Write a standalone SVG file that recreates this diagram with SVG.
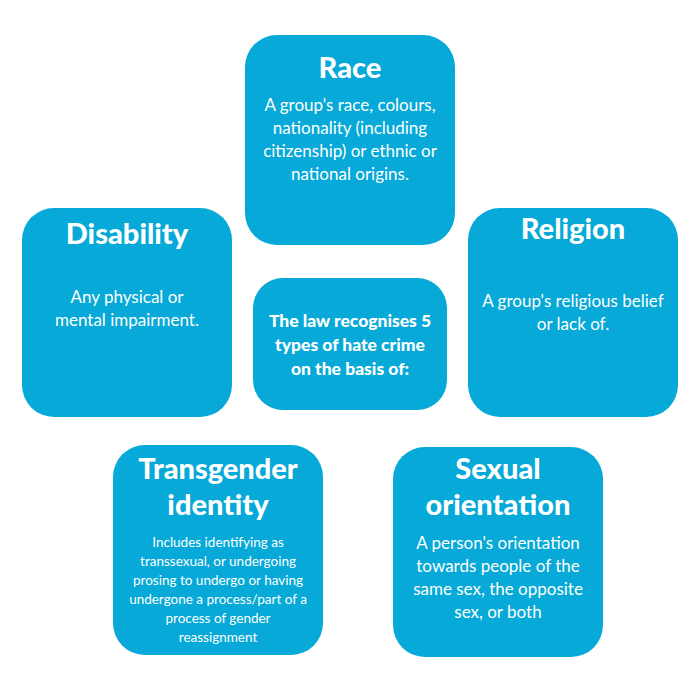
<svg xmlns="http://www.w3.org/2000/svg" width="700" height="700" viewBox="0 0 700 700">
<style>
.b{fill:#06a9d7}
.t{font-family:Lato,"Open Sans",sans-serif;font-weight:900;fill:#fff;text-anchor:middle;font-size:29px}
.d{font-family:Lato,"Open Sans",sans-serif;fill:#fff;text-anchor:middle;font-size:17px}
.s{font-family:Lato,"Open Sans",sans-serif;fill:#fff;text-anchor:middle;font-size:13.5px}
.c{font-family:Lato,"Open Sans",sans-serif;font-weight:900;fill:#fff;text-anchor:middle;font-size:17.5px}
</style>
<rect width="700" height="700" fill="#fff"/>
<g id="race"><rect class="b" x="245" y="35" width="210" height="210" rx="32"/>
<text class="t" x="350" y="78">Race</text>
<text class="d" x="350" y="111">A group's race, colours,</text>
<text class="d" x="350" y="134">nationality (including</text>
<text class="d" x="350" y="157">citizenship) or ethnic or</text>
<text class="d" x="350" y="180">national origins.</text></g>
<g id="disability"><rect class="b" x="22" y="208" width="210" height="209" rx="32"/>
<text class="t" x="127" y="244">Disability</text>
<text class="d" x="127" y="303">Any physical or</text>
<text class="d" x="127" y="326">mental impairment.</text></g>
<g id="religion"><rect class="b" x="468" y="208" width="210" height="209" rx="32"/>
<text class="t" x="573" y="239">Religion</text>
<text class="d" x="573" y="307">A group's religious belief</text>
<text class="d" x="573" y="330">or lack of.</text></g>
<g id="center"><rect class="b" x="253" y="278" width="194" height="132" rx="30"/>
<text class="c" x="350" y="327">The law recognises 5</text>
<text class="c" x="350" y="351">types of hate crime</text>
<text class="c" x="350" y="375">on the basis of:</text></g>
<g id="transgender"><rect class="b" x="113" y="445" width="210" height="210" rx="32"/>
<text class="t" x="218" y="479">Transgender</text>
<text class="t" x="218" y="515">identity</text>
<text class="s" x="218" y="547">Includes identifying as</text>
<text class="s" x="218" y="566">transsexual, or undergoing</text>
<text class="s" x="218" y="585">prosing to undergo or having</text>
<text class="s" x="218" y="604">undergone a process/part of a</text>
<text class="s" x="218" y="623">process of gender</text>
<text class="s" x="218" y="642">reassignment</text></g>
<g id="sexual"><rect class="b" x="393" y="447" width="210" height="210" rx="32"/>
<text class="t" x="498" y="479">Sexual</text>
<text class="t" x="498" y="515">orientation</text>
<text class="d" x="498" y="549">A person's orientation</text>
<text class="d" x="498" y="572">towards people of the</text>
<text class="d" x="498" y="595">same sex, the opposite</text>
<text class="d" x="498" y="618">sex, or both</text></g>
<g id="connectors"/>
</svg>
